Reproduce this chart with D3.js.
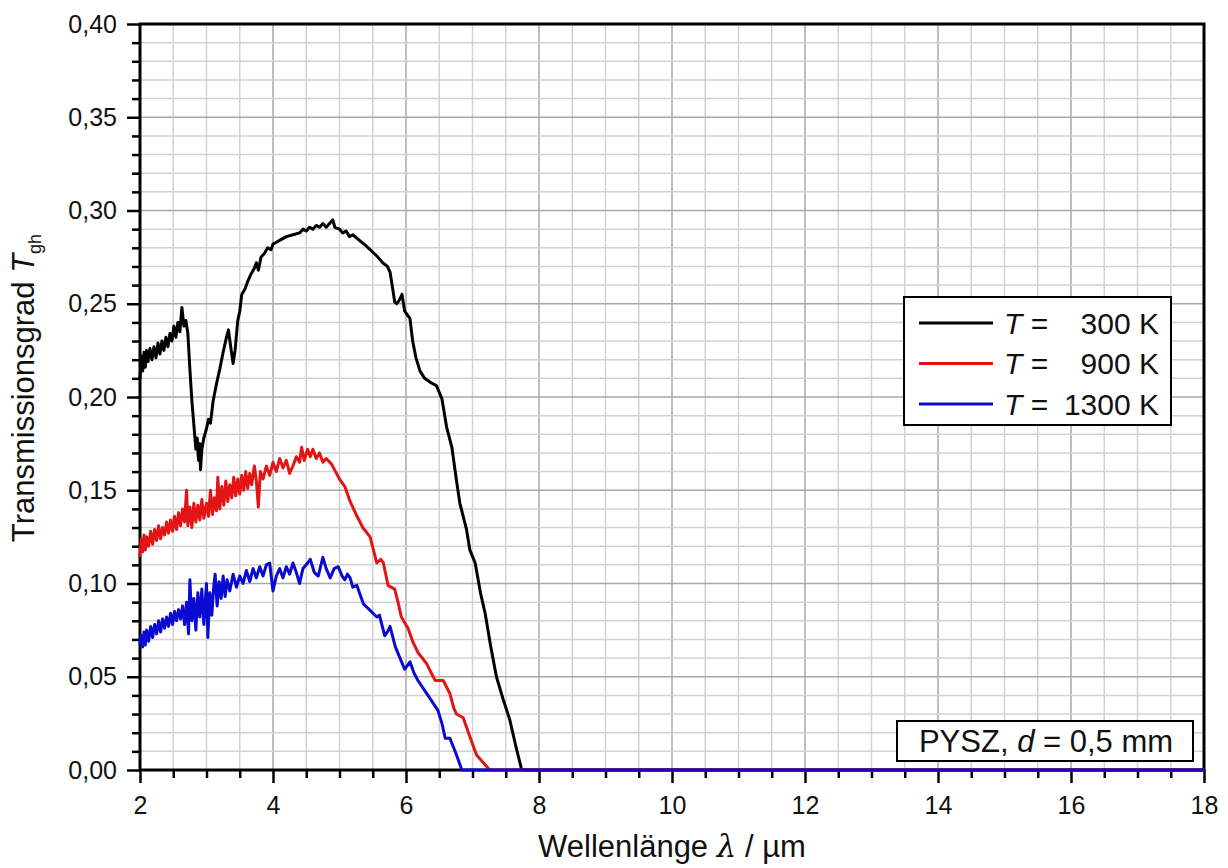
<!DOCTYPE html>
<html><head><meta charset="utf-8">
<script src="https://cdn.jsdelivr.net/npm/d3@7"></script>
<style>
body{margin:0;background:#fff}
svg{display:block}
text{font-family:"Liberation Sans",Arial,sans-serif;fill:#111}
</style>
</head><body>
<svg id="chart" width="1228" height="868"></svg>
<script>
// ---------------- data ----------------
const xMajorTicks = [2,4,6,8,10,12,14,16,18];
const yMajorTicks = [0,0.05,0.10,0.15,0.20,0.25,0.30,0.35,0.40];
const seriesLabels = ["300 K","900 K","1300 K"];
const seriesColors = ["#000000","#e41414","#0a0ad2"];

const lambda300 = [2.00,2.02,2.04,2.06,2.08,2.10,2.12,2.15,2.18,2.21,2.24,2.27,2.30,2.33,2.36,2.39,2.42,2.45,2.48,2.51,2.54,2.57,2.60,2.63,2.66,2.69,2.72,2.75,2.78,2.81,2.84,2.86,2.88,2.90,2.91,2.93,2.96,3.00,3.03,3.06,3.10,3.15,3.20,3.25,3.30,3.33,3.36,3.40,3.43,3.47,3.50,3.53,3.58,3.62,3.67,3.72,3.75,3.78,3.82,3.87,3.92,3.97,4.00,4.05,4.10,4.20,4.30,4.40,4.45,4.50,4.55,4.60,4.65,4.70,4.75,4.80,4.85,4.90,4.93,5.00,5.05,5.10,5.15,5.20,5.30,5.40,5.46,5.55,5.65,5.72,5.76,5.80,5.83,5.86,5.90,5.94,5.98,6.02,6.06,6.10,6.15,6.21,6.28,6.36,6.46,6.54,6.61,6.69,6.76,6.81,6.91,6.96,7.04,7.12,7.19,7.27,7.36,7.46,7.56,7.65,7.74,18];
const trans300 = [0.210,0.222,0.214,0.224,0.216,0.225,0.219,0.226,0.220,0.227,0.221,0.229,0.223,0.230,0.225,0.232,0.227,0.234,0.230,0.238,0.232,0.240,0.235,0.248,0.238,0.241,0.234,0.215,0.198,0.185,0.172,0.178,0.166,0.175,0.161,0.172,0.178,0.183,0.188,0.186,0.198,0.207,0.215,0.224,0.232,0.236,0.228,0.218,0.225,0.241,0.246,0.255,0.258,0.262,0.266,0.269,0.272,0.268,0.275,0.277,0.280,0.279,0.282,0.283,0.284,0.286,0.287,0.288,0.290,0.289,0.291,0.290,0.292,0.291,0.293,0.291,0.293,0.295,0.291,0.290,0.288,0.289,0.286,0.287,0.284,0.281,0.279,0.276,0.272,0.270,0.267,0.258,0.251,0.250,0.252,0.255,0.246,0.244,0.242,0.230,0.221,0.214,0.210,0.208,0.206,0.199,0.184,0.173,0.155,0.143,0.129,0.118,0.111,0.095,0.084,0.067,0.050,0.038,0.027,0.013,0.000,0.000];

const lambda900 = [2.00,2.02,2.04,2.06,2.08,2.10,2.13,2.16,2.19,2.22,2.25,2.28,2.31,2.34,2.37,2.40,2.43,2.46,2.49,2.52,2.55,2.58,2.61,2.64,2.67,2.70,2.72,2.75,2.78,2.81,2.84,2.87,2.90,2.93,2.96,3.00,3.03,3.06,3.09,3.12,3.15,3.17,3.20,3.23,3.26,3.29,3.32,3.35,3.38,3.41,3.44,3.47,3.50,3.53,3.56,3.59,3.62,3.65,3.68,3.72,3.75,3.78,3.81,3.85,3.90,3.95,4.00,4.05,4.10,4.15,4.20,4.25,4.30,4.35,4.40,4.43,4.47,4.52,4.56,4.60,4.65,4.70,4.75,4.80,4.88,5.00,5.08,5.16,5.25,5.35,5.46,5.51,5.56,5.62,5.66,5.73,5.83,5.88,5.93,6.03,6.10,6.18,6.31,6.38,6.44,6.56,6.66,6.72,6.76,6.86,6.96,7.06,7.16,7.26,18];
const trans900 = [0.115,0.124,0.117,0.126,0.118,0.125,0.120,0.128,0.121,0.129,0.123,0.131,0.124,0.130,0.126,0.133,0.127,0.134,0.128,0.136,0.129,0.138,0.131,0.140,0.133,0.150,0.131,0.141,0.130,0.143,0.133,0.142,0.134,0.145,0.135,0.143,0.136,0.150,0.137,0.146,0.139,0.157,0.140,0.152,0.142,0.155,0.144,0.153,0.146,0.157,0.147,0.156,0.148,0.158,0.150,0.160,0.151,0.159,0.153,0.163,0.155,0.141,0.160,0.156,0.163,0.158,0.165,0.160,0.167,0.162,0.166,0.159,0.163,0.168,0.165,0.173,0.166,0.172,0.168,0.172,0.167,0.170,0.165,0.167,0.164,0.156,0.152,0.144,0.137,0.130,0.125,0.118,0.111,0.113,0.111,0.099,0.097,0.090,0.082,0.076,0.069,0.063,0.057,0.052,0.048,0.048,0.041,0.033,0.030,0.028,0.018,0.008,0.004,0.000,0.000];

const lambda1300 = [2.00,2.02,2.04,2.06,2.08,2.10,2.13,2.16,2.19,2.22,2.25,2.28,2.31,2.34,2.37,2.40,2.43,2.46,2.49,2.52,2.55,2.58,2.61,2.64,2.67,2.70,2.73,2.75,2.78,2.81,2.84,2.87,2.90,2.93,2.96,3.00,3.02,3.05,3.08,3.11,3.13,3.16,3.19,3.22,3.25,3.28,3.31,3.35,3.40,3.45,3.50,3.55,3.60,3.65,3.70,3.75,3.80,3.85,3.90,3.95,4.00,4.05,4.10,4.15,4.20,4.25,4.30,4.35,4.40,4.45,4.50,4.56,4.62,4.68,4.75,4.80,4.86,4.92,4.98,5.04,5.08,5.12,5.16,5.20,5.26,5.36,5.45,5.56,5.60,5.68,5.72,5.76,5.84,5.91,5.98,6.06,6.12,6.18,6.33,6.48,6.54,6.59,6.66,6.75,6.84,18];
const trans1300 = [0.068,0.072,0.066,0.074,0.067,0.075,0.069,0.077,0.071,0.078,0.073,0.080,0.074,0.081,0.076,0.082,0.077,0.084,0.078,0.085,0.080,0.086,0.081,0.088,0.078,0.090,0.073,0.102,0.080,0.092,0.075,0.095,0.082,0.097,0.078,0.100,0.071,0.095,0.083,0.099,0.105,0.088,0.101,0.092,0.104,0.093,0.102,0.096,0.105,0.098,0.104,0.100,0.107,0.101,0.108,0.103,0.109,0.104,0.110,0.111,0.096,0.104,0.108,0.103,0.109,0.105,0.111,0.106,0.100,0.108,0.110,0.113,0.106,0.104,0.114,0.108,0.103,0.108,0.109,0.104,0.102,0.105,0.103,0.098,0.099,0.089,0.086,0.082,0.083,0.072,0.074,0.077,0.066,0.060,0.054,0.058,0.052,0.048,0.040,0.032,0.025,0.017,0.017,0.009,0.000,0.000];

const xAxisTitle = "Wellenlänge ";
const yAxisTitle = "Transmissionsgrad ";
const noteText = "PYSZ, ";

// ---------------- layout ----------------
const M = {left:140, right:1204, top:24, bottom:770};
const svg = d3.select("#chart");
const x = d3.scaleLinear().domain([2,18]).range([M.left, M.right]);
const y = d3.scaleLinear().domain([0,0.40]).range([M.bottom, M.top]);

const xMinor = d3.range(2, 18.001, 0.5);
const yMinor = d3.range(0, 0.4001, 0.01);

// grid
const grid = svg.append("g");
grid.selectAll(".vg").data(xMinor.filter(v => v>2 && v<18)).enter().append("line")
  .attr("x1", d=>x(d)).attr("x2", d=>x(d)).attr("y1", M.top).attr("y2", M.bottom)
  .attr("stroke", d => (Math.abs(d%2) < 1e-6) ? "#a8a8a8" : "#d2d2d2").attr("stroke-width", 1.5);
grid.selectAll(".hg").data(yMinor.filter(v => v>0.001 && v<0.399)).enter().append("line")
  .attr("y1", d=>y(d)).attr("y2", d=>y(d)).attr("x1", M.left).attr("x2", M.right)
  .attr("stroke", d => (Math.abs(Math.round(d*100)%5) === 0) ? "#a8a8a8" : "#d2d2d2").attr("stroke-width", 1.5);

// axes
const fmtY = d => d3.format(".2f")(d).replace(".", ",");
const xAx = svg.append("g").attr("transform", `translate(0,${M.bottom})`)
  .call(d3.axisBottom(x).tickValues(xMajorTicks).tickSize(13).tickPadding(13).tickFormat(d3.format("d")));
const xAxMinor = svg.append("g").attr("transform", `translate(0,${M.bottom})`)
  .call(d3.axisBottom(x).tickValues(xMinor.filter(v => v%2 !== 0)).tickSize(8).tickFormat(""));
const yAx = svg.append("g").attr("transform", `translate(${M.left},0)`)
  .call(d3.axisLeft(y).tickValues(yMajorTicks).tickSize(13).tickPadding(10).tickFormat(fmtY));
const yAxMinor = svg.append("g").attr("transform", `translate(${M.left},0)`)
  .call(d3.axisLeft(y).tickValues(yMinor.filter(v => Math.round(v*100)%5 !== 0)).tickSize(8).tickFormat(""));
[xAx, xAxMinor, yAx, yAxMinor].forEach(g => {
  g.select(".domain").remove();
  g.selectAll(".tick line").attr("stroke", "#000").attr("stroke-width", 2.5);
  g.selectAll(".tick text").attr("font-size", 25).attr("fill", "#111")
   .style("font-family", '"Liberation Sans",Arial,sans-serif');
});

// frame
svg.append("rect").attr("x", M.left).attr("y", M.top)
  .attr("width", M.right-M.left).attr("height", M.bottom-M.top)
  .attr("fill", "none").attr("stroke", "#000").attr("stroke-width", 3);

// curves
const allSeries = [
  {lam: lambda300, tr: trans300},
  {lam: lambda900, tr: trans900},
  {lam: lambda1300, tr: trans1300}
];
const line = d3.line().x(d => x(d[0])).y(d => y(d[1]));
allSeries.forEach((s, i) => {
  const pts = s.lam.map((l, k) => [l, s.tr[k]]);
  svg.append("path").datum(pts).attr("d", line)
    .attr("fill", "none").attr("stroke", seriesColors[i])
    .attr("stroke-width", 3).attr("stroke-linejoin", "round").attr("stroke-linecap", "round");
});

// axis titles
const xt = svg.append("text").attr("x", (M.left+M.right)/2).attr("y", 857)
  .attr("text-anchor", "middle").attr("font-size", 31);
xt.append("tspan").text(xAxisTitle);
xt.append("tspan").attr("font-family", '"DejaVu Serif",serif').attr("font-style", "italic").text("λ");
xt.append("tspan").text(" / µm");

const yt = svg.append("text").attr("transform", "translate(34,388) rotate(-90)")
  .attr("text-anchor", "middle").attr("font-size", 31);
yt.append("tspan").text(yAxisTitle);
yt.append("tspan").attr("font-style", "italic").text("T");
yt.append("tspan").attr("font-size", 18).attr("dy", 7).text("gh");

// legend
const lg = svg.append("g");
lg.append("rect").attr("x", 904).attr("y", 297).attr("width", 267).attr("height", 128)
  .attr("fill", "#fff").attr("stroke", "#000").attr("stroke-width", 2);
seriesLabels.forEach((lab, i) => {
  const yy = 323 + i*40.5;
  lg.append("line").attr("x1", 919).attr("x2", 993).attr("y1", yy).attr("y2", yy)
    .attr("stroke", seriesColors[i]).attr("stroke-width", 3);
  const t = lg.append("text").attr("x", 1004).attr("y", yy+10.5).attr("font-size", 30);
  t.append("tspan").attr("font-style", "italic").text("T");
  t.append("tspan").text(" =");
  lg.append("text").attr("x", 1159).attr("y", yy+10.5).attr("font-size", 30)
    .attr("text-anchor", "end").text(lab);
});

// annotation
svg.append("rect").attr("x", 897).attr("y", 721).attr("width", 296).attr("height", 40)
  .attr("fill", "#fff").attr("stroke", "#000").attr("stroke-width", 2);
const nt = svg.append("text").attr("x", 1046).attr("y", 752).attr("text-anchor", "middle").attr("font-size", 31);
nt.append("tspan").text(noteText);
nt.append("tspan").attr("font-style", "italic").text("d");
nt.append("tspan").text(" = 0,5 mm");
</script>
</body></html>
